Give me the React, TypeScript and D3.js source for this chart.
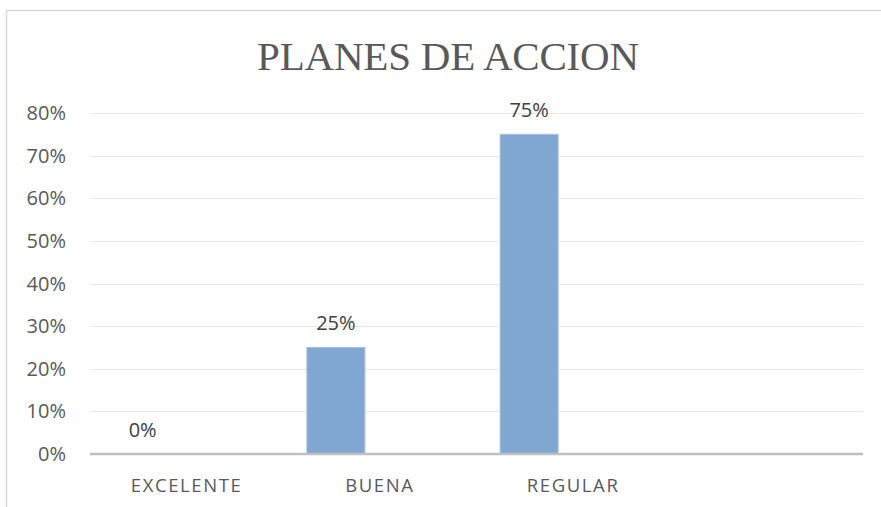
import React from "react";
import * as d3 from "d3";

const categories = ["EXCELENTE", "BUENA", "REGULAR", ""];
const values = [0, 0.25, 0.75, null];
const yTicks = [0, 0.1, 0.2, 0.3, 0.4, 0.5, 0.6, 0.7, 0.8];
const title = "PLANES DE ACCION";

const W = 881;
const H = 507;
const left = 90;
const right = 863;
const top = 113;
const bottom = 454;
const barW = 58;
const barShift = -44;

export default function App() {
  const x = d3.scaleBand<string>().domain(categories.map((c, i) => String(i))).range([left, right]).padding(0);
  const y = d3.scaleLinear().domain([0, 0.8]).range([bottom, top]);
  const fmt = d3.format(".0%");
  const sans = "'Open Sans', sans-serif";
  return (
    <svg width={W} height={H} style={{ position: "absolute", left: 0, top: 0, background: "#fff" }}>
      <line x1={6} x2={W} y1={10.5} y2={10.5} stroke="#d9d9d9" strokeWidth={1.5} />
      <line x1={6.5} x2={6.5} y1={10} y2={H} stroke="#d9d9d9" strokeWidth={1.5} />
      <text x={448} y={70} textAnchor="middle" fontFamily="'Liberation Serif', serif" fontSize={41} letterSpacing={-0.2} fill="#595959">
        {title}
      </text>
      {yTicks.map((t) => (
        <g key={t}>
          {t > 0 && <line x1={left} x2={right} y1={Math.round(y(t)) + 0.5} y2={Math.round(y(t)) + 0.5} stroke="#e8e8e8" strokeWidth={1.2} />}
          <text x={66} y={y(t)} dy="0.35em" textAnchor="end" fontFamily={sans} fontSize={20} fill="#595959">
            {fmt(t)}
          </text>
        </g>
      ))}
      {values.map((v, i) => {
        if (v === null) return null;
        const cx = (x(String(i)) as number) + x.bandwidth() / 2 + barShift;
        return (
          <g key={i}>
            {v > 0 && (
              <rect x={cx - barW / 2} y={y(v)} width={barW} height={bottom - y(v)} fill="#80a7d1" stroke="#a3bfe0" strokeWidth={1} />
            )}
            <text x={cx} y={y(v) - 17} textAnchor="middle" fontFamily={sans} fontSize={20} fill="#404040">
              {fmt(v)}
            </text>
          </g>
        );
      })}
      <line x1={left} x2={right} y1={bottom} y2={bottom} stroke="#bfbfbf" strokeWidth={2.5} />
      {categories.map((c, i) => (
        <text key={i} x={(x(String(i)) as number) + x.bandwidth() / 2} y={492} textAnchor="middle" fontFamily={sans} fontSize={18.5} letterSpacing={1.6} fill="#595959">
          {c}
        </text>
      ))}
    </svg>
  );
}
